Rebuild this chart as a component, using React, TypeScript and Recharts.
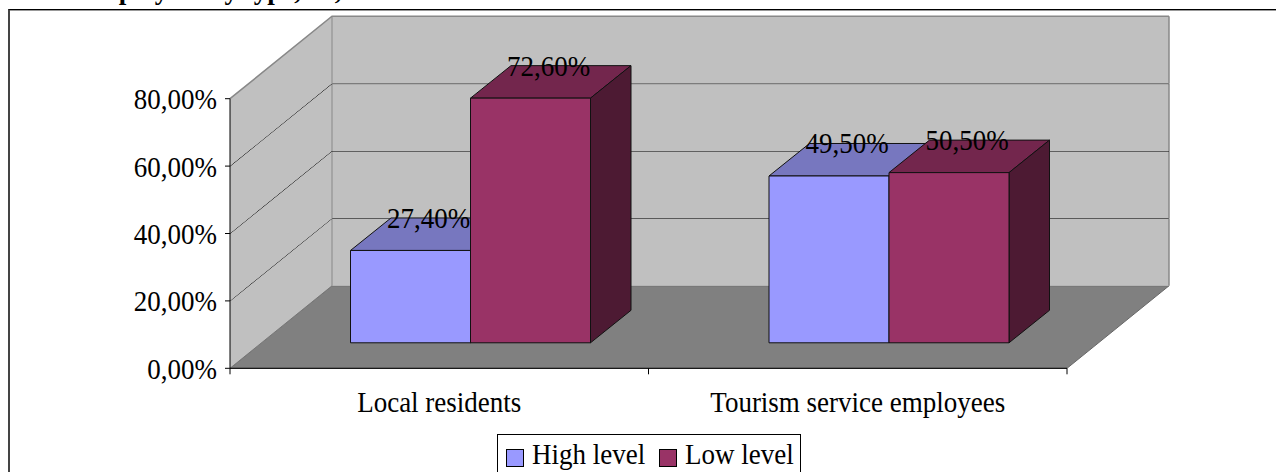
import React from "react";
import { Bar, BarChart, Legend, ReferenceArea, XAxis, YAxis } from "recharts";

// values, in percent
const categories = ["Local residents", "Tourism service employees"];
const highLevel = [27.4, 49.5];
const lowLevel = [72.6, 50.5];
const yTicks = [0, 20, 40, 60, 80];
const wallBands = [
  [0, 20],
  [20, 40],
  [40, 60],
  [60, 80],
];

const data = categories.map((name, i) => ({
  name,
  high: highLevel[i],
  low: lowLevel[i],
}));

const FONT = '"Liberation Serif", "Times New Roman", serif';

// oblique 3D offsets (px)
const WALL_DX = 102;
const WALL_DY = 82.5;
const BAR_SX = 31.5;
const BAR_SY = 25.5;
const BAR_DX = 40.5;
const BAR_DY = 32.5;

const fmt = (v: number) => v.toFixed(2).replace(".", ",") + "%";

function makeBox(front: string, top: string, side: string) {
  return (props: any) => {
    const { x, y, width, height } = props;
    const l = x + BAR_SX;
    const t = y - BAR_SY;
    const r = l + width;
    const b = t + height;
    return (
      <g stroke="#111" strokeWidth={1} strokeLinejoin="round">
        <polygon
          points={`${l},${t} ${r},${t} ${r + BAR_DX},${t - BAR_DY} ${l + BAR_DX},${t - BAR_DY}`}
          fill={top}
        />
        <polygon
          points={`${r},${t} ${r + BAR_DX},${t - BAR_DY} ${r + BAR_DX},${b - BAR_DY} ${r},${b}`}
          fill={side}
        />
        <rect x={l} y={t} width={width} height={height} fill={front} />
      </g>
    );
  };
}

const HighBox = makeBox("#9999FF", "#7777BF", "#4D4D80");
const LowBox = makeBox("#993366", "#73264D", "#4D1A33");

// one band of side wall + back wall, its top edge is the gridline
function makeWallBand(isBottom: boolean, isTop: boolean) {
  return (props: any) => {
    const { x, y, width, height } = props;
    const y0 = y + height;
    const y1 = y;
    const bx = x + WALL_DX;
    const rx = x + width + WALL_DX;
    return (
      <g>
        {isBottom && (
          <polygon
            points={`${x},${y0} ${bx},${y0 - WALL_DY} ${rx},${y0 - WALL_DY} ${x + width},${y0}`}
            fill="#808080"
            stroke="#666"
            strokeWidth={1}
          />
        )}
        <polygon
          points={`${x},${y0} ${bx},${y0 - WALL_DY} ${bx},${y1 - WALL_DY} ${x},${y1}`}
          fill="#C0C0C0"
        />
        <rect x={bx} y={y1 - WALL_DY} width={width} height={height} fill="#C0C0C0" />
        {isBottom && (
          <line x1={x} y1={y0} x2={bx} y2={y0 - WALL_DY} stroke="#777" strokeWidth={1} />
        )}
        <line x1={bx} y1={y0 - WALL_DY} x2={bx} y2={y1 - WALL_DY} stroke="#888" strokeWidth={1} />
        <line x1={rx} y1={y0 - WALL_DY} x2={rx} y2={y1 - WALL_DY} stroke="#888" strokeWidth={1.5} />
        <polyline
          points={`${x},${y1} ${bx},${y1 - WALL_DY} ${rx},${y1 - WALL_DY}`}
          fill="none"
          stroke={isTop ? "#888" : "#000"}
          strokeWidth={isTop ? 1.5 : 1}
        />
      </g>
    );
  };
}

const TEXT_STRETCH = "scale(1,1.1)";

const renderLabel = (props: any) => {
  const { x, y, width, value } = props;
  const tx = Number(x) + Number(width) / 2 + BAR_SX + 18;
  const ty = Number(y) - BAR_SY - 22.5;
  return (
    <text
      x={0}
      y={0}
      transform={`translate(${tx},${ty}) ${TEXT_STRETCH}`}
      textAnchor="middle"
      fontFamily={FONT}
      fontSize={27}
      fill="#000"
    >
      {fmt(Number(value))}
    </text>
  );
};

const YTick = (props: any) => {
  const { x, y, payload } = props;
  return (
    <text
      x={0}
      y={0}
      transform={`translate(${x},${y + 10.5}) ${TEXT_STRETCH}`}
      textAnchor="end"
      fontFamily={FONT}
      fontSize={27}
      fill="#000"
    >
      {fmt(payload.value)}
    </text>
  );
};

const CategoryTick = (props: any) => {
  const { x, y, payload, index, width, visibleTicksCount } = props;
  const half = (Number(width) || 837) / (visibleTicksCount || categories.length) / 2;
  const last = index === (visibleTicksCount || categories.length) - 1;
  return (
    <g>
      <line x1={x - half} y1={y} x2={x - half} y2={y + 6} stroke="#000" />
      {last && <line x1={x + half} y1={y} x2={x + half} y2={y + 6} stroke="#000" />}
      <text
        x={0}
        y={0}
        transform={`translate(${x},${y + 43.5}) ${TEXT_STRETCH}`}
        textAnchor="middle"
        fontFamily={FONT}
        fontSize={27}
        fill="#000"
      >
        {payload.value}
      </text>
    </g>
  );
};

const renderLegend = (props: any) => {
  const items = props.payload || [];
  return (
    <div
      style={{
        position: "relative",
        width: 304,
        height: 50,
        border: "1px solid #000",
        background: "#fff",
        boxSizing: "border-box",
        fontFamily: FONT,
        fontSize: 27,
        lineHeight: "27px",
        color: "#000",
      }}
    >
      {items.map((it: any, i: number) => (
        <React.Fragment key={i}>
          <span
            style={{
              position: "absolute",
              left: 8 + i * 153,
              top: 14,
              width: 16,
              height: 16,
              background: it.color,
              border: "1px solid #000",
            }}
          />
          <span
            style={{
              position: "absolute",
              left: 34 + i * 153,
              top: 7,
              whiteSpace: "nowrap",
              transform: "scale(1,1.1)",
              transformOrigin: "0 22px",
            }}
          >
            {it.value}
          </span>
        </React.Fragment>
      ))}
    </div>
  );
};

export default function App() {
  return (
    <div
      style={{
        position: "absolute",
        left: 0,
        top: 0,
        width: 1276,
        height: 472,
        overflow: "hidden",
        background: "#fff",
      }}
    >
      <div
        style={{
          position: "absolute",
          left: -2,
          top: -23,
          fontFamily: FONT,
          fontWeight: "bold",
          fontSize: 27,
          lineHeight: "27px",
          whiteSpace: "nowrap",
        }}
      >
        service employees by type, %, 2008
      </div>
      <div
        style={{
          position: "absolute",
          left: 8,
          top: 9,
          width: 1300,
          height: 500,
          borderTop: "1px solid #000",
          borderLeft: "2px solid #444",
          boxShadow: "inset 0 1px 0 #999",
        }}
      />
      <div style={{ position: "absolute", left: 0, top: 0 }}>
        <BarChart
          width={1276}
          height={472}
          data={data}
          barGap={0}
          margin={{ top: 98.7, right: 209, bottom: 73.7, left: 0 }}
        >
          {wallBands.map(([a, b], i) => (
            <ReferenceArea
              key={a}
              y1={a}
              y2={b}
              ifOverflow="visible"
              zIndex={-10}
              shape={makeWallBand(i === 0, i === wallBands.length - 1)}
            />
          ))}
          <XAxis
            dataKey="name"
            height={30}
            interval={0}
            tickSize={0}
            tickMargin={0}
            tickLine={false}
            axisLine={{ stroke: "#000" }}
            tick={<CategoryTick />}
          />
          <YAxis
            width={230}
            domain={[0, 80]}
            ticks={yTicks}
            interval={0}
            tickSize={5}
            tickMargin={8}
            axisLine={{ stroke: "#000" }}
            tickLine={{ stroke: "#000" }}
            tick={<YTick />}
          />
          <Bar
            dataKey="high"
            name="High level"
            fill="#9999FF"
            barSize={120}
            shape={HighBox}
            label={renderLabel}
            isAnimationActive={false}
          />
          <Bar
            dataKey="low"
            name="Low level"
            fill="#993366"
            barSize={120}
            shape={LowBox}
            label={renderLabel}
            isAnimationActive={false}
          />
          <Legend
            layout="horizontal"
            verticalAlign="middle"
            align="center"
            content={renderLegend}
            wrapperStyle={{ left: 497, top: 434, width: 304, height: 50 }}
          />
        </BarChart>
      </div>
    </div>
  );
}
